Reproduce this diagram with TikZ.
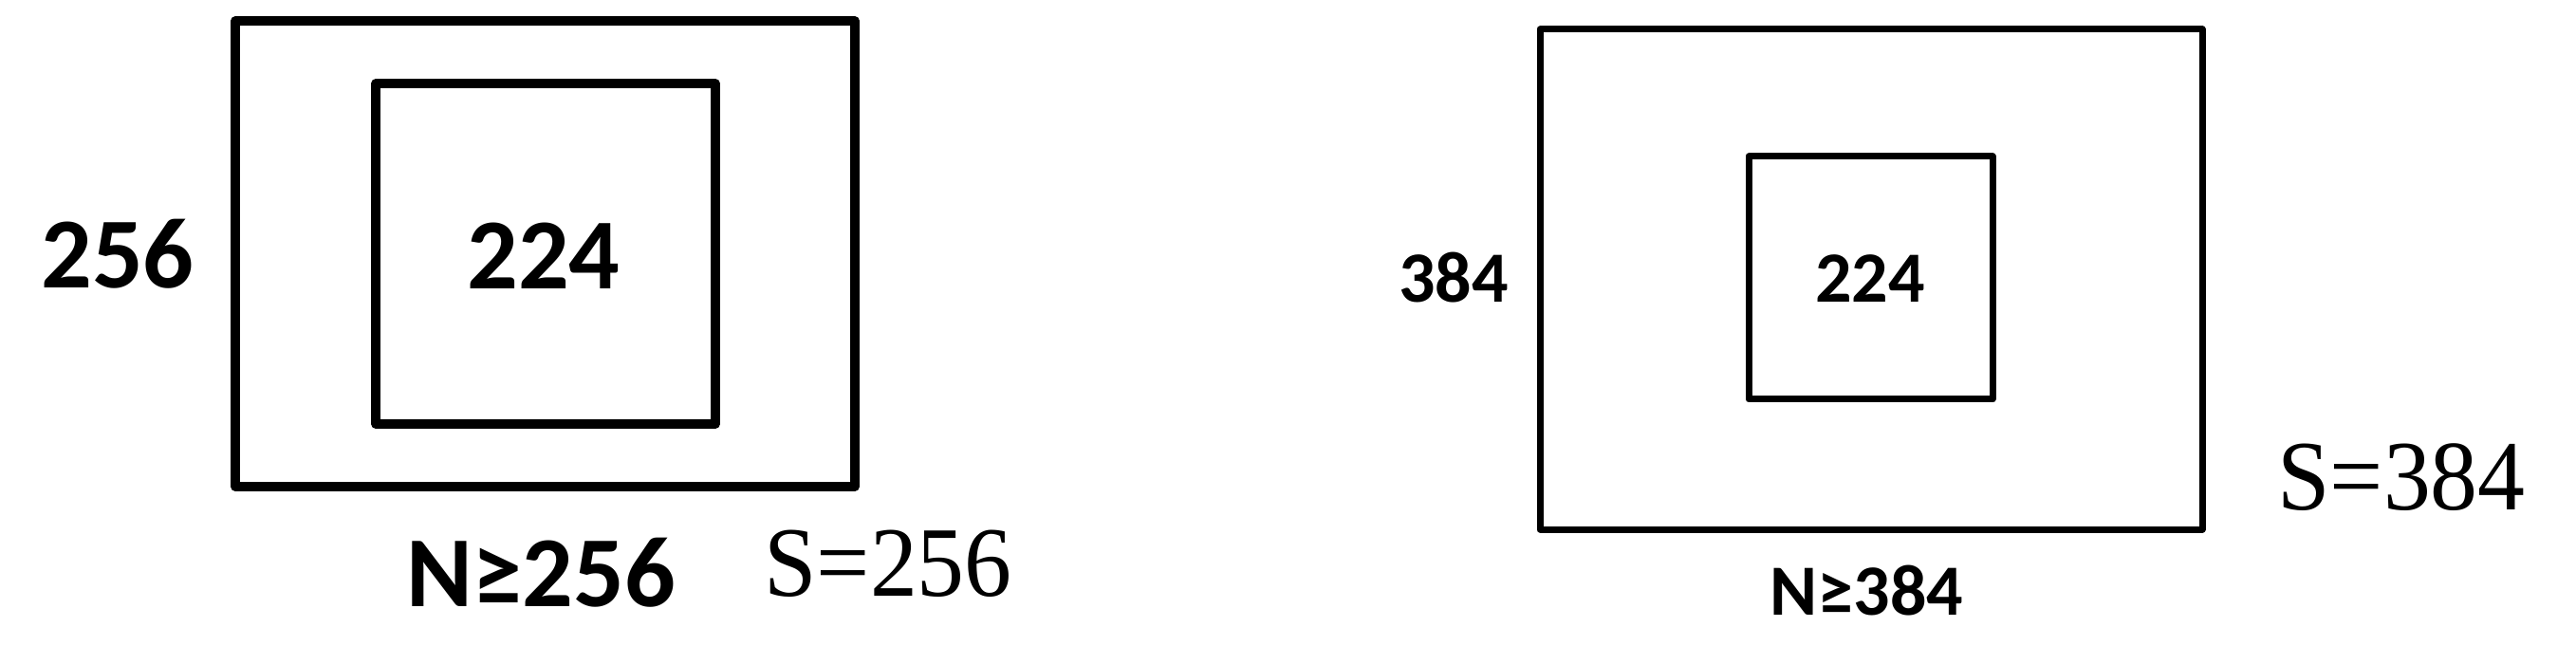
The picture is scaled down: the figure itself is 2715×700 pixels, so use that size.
\documentclass[tikz,border=0pt]{standalone}
\usepackage{fontspec}
\usepackage{graphicx}
\setmainfont{Liberation Serif}
\newfontfamily\calfont{Carlito}
\tikzset{
  bigbox/.style={draw=black, line width=9.5pt, line join=round},
  smallbox/.style={draw=black, line width=7pt, line join=round},
  bigbold/.style={inner sep=0pt, font=\calfont\bfseries\fontsize{106}{110}\selectfont},
  smallbold/.style={inner sep=0pt, font=\calfont\bfseries\fontsize{76}{80}\selectfont},
  serifbig/.style={inner sep=0pt, font=\fontsize{105}{110}\selectfont}
}
\begin{document}
\begin{tikzpicture}[x=1pt,y=-1pt]
\useasboundingbox (0,0) rectangle (2715,700);
% left figure
\draw[bigbox] (248,22) rectangle (901,513);
\draw[bigbox] (396,88) rectangle (754,447);
\node[bigbold] (l256) at (124,267.5) {256};
\node[bigbold] (l224) at (573,270) {224};
\node[bigbold] (lN) at (570,603.5) {N≥256};
\node[serifbig] (lS) at (936,594.5) {\scalebox{0.95}[1]{S=256}};
% right figure
\draw[smallbox] (1623,31) rectangle (2321,558);
\draw[smallbox] (1843,165) rectangle (2100,421);
\node[smallbold] (r384) at (1532,293) {384};
\node[smallbold] (r224) at (1971,294) {224};
\node[smallbold] (rN) at (1967.5,623) {N≥384};
\node[serifbig] (rS) at (2531,503) {\scalebox{0.95}[1]{S=384}};
\end{tikzpicture}
\end{document}
